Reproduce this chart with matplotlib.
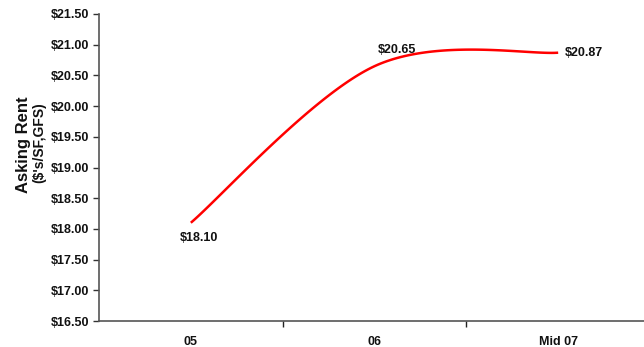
import numpy as np
import matplotlib
matplotlib.use("Agg")
import matplotlib.pyplot as plt
from matplotlib.ticker import FuncFormatter

plt.rcParams['font.family'] = ['Liberation Sans', 'DejaVu Sans']

periods = ["05", "06", "Mid 07"]
rents = [18.10, 20.65, 20.87]
y_ticks = [16.5, 17.0, 17.5, 18.0, 18.5, 19.0, 19.5, 20.0, 20.5, 21.0, 21.5]


def smooth_curve(xs, ys, n=60):
    """Bezier smoothing through the points (Catmull-Rom style control points)."""
    pts = np.column_stack([xs, ys]).astype(float)
    out = []
    m = len(pts)
    for i in range(m - 1):
        p0 = pts[i - 1] if i > 0 else pts[i]
        p1 = pts[i]
        p2 = pts[i + 1]
        p3 = pts[i + 2] if i + 2 < m else pts[i + 1]
        c1 = p1 + (p2 - p0) / 6.0
        c2 = p2 - (p3 - p1) / 6.0
        t = np.linspace(0, 1, n)[:, None]
        seg = ((1 - t) ** 3) * p1 + 3 * ((1 - t) ** 2) * t * c1 \
            + 3 * (1 - t) * t ** 2 * c2 + t ** 3 * p2
        out.append(seg if i == 0 else seg[1:])
    return np.vstack(out)


fig = plt.figure(figsize=(6.44, 3.47), dpi=100)
ax = fig.add_axes([99 / 644, 26 / 347, 551 / 644, 307 / 347])

x = np.arange(len(periods))
curve = smooth_curve(x, rents)
ax.plot(curve[:, 0], curve[:, 1], color="#ff0000", lw=1.8, solid_capstyle="butt")

ax.set_xlim(-0.5, len(periods) - 0.5)
ax.set_ylim(y_ticks[0], y_ticks[-1])
ax.set_yticks(y_ticks)
ax.yaxis.set_major_formatter(FuncFormatter(lambda v, _: f"${v:.2f}"))

# category labels centred, tick marks between categories
ax.set_xticks(x)
ax.set_xticklabels(periods)
ax.set_xticks(np.arange(0.5, len(periods) - 0.5, 1.0), minor=True)
ax.tick_params(axis="x", which="major", length=0, pad=11)
ax.tick_params(axis="x", which="minor", length=4, width=1, color="#222222", direction="out")
ax.tick_params(axis="y", length=4, width=1, color="#333333", direction="out", pad=3)
for lab in ax.get_xticklabels() + ax.get_yticklabels():
    lab.set_fontsize(9)
    lab.set_fontweight("bold")
    lab.set_color("#111111")

for side in ("top", "right"):
    ax.spines[side].set_visible(False)
for side in ("left", "bottom"):
    ax.spines[side].set_color("#555555")
    ax.spines[side].set_linewidth(1.2)

# value labels
offsets = [(6, -11, "center", "center"), (16, 12, "center", "center"), (5, 0, "left", "center")]
for xi, v, (dx, dy, ha, va) in zip(x, rents, offsets):
    ax.annotate(f"${v:.2f}", (xi, v), xytext=(dx, dy), textcoords="offset points",
                ha=ha, va=va, fontsize=9, fontweight="bold", color="#111111")

fig.text(24 / 644, 1 - 145 / 347, "Asking Rent", rotation=90, ha="center", va="center",
         fontsize=12, fontweight="bold", color="#111111")
fig.text(39 / 644, 1 - 143 / 347, "($'s/SF,GFS)", rotation=90, ha="center", va="center",
         fontsize=10, fontweight="bold", color="#111111")

fig.savefig("out.png", dpi=100)
